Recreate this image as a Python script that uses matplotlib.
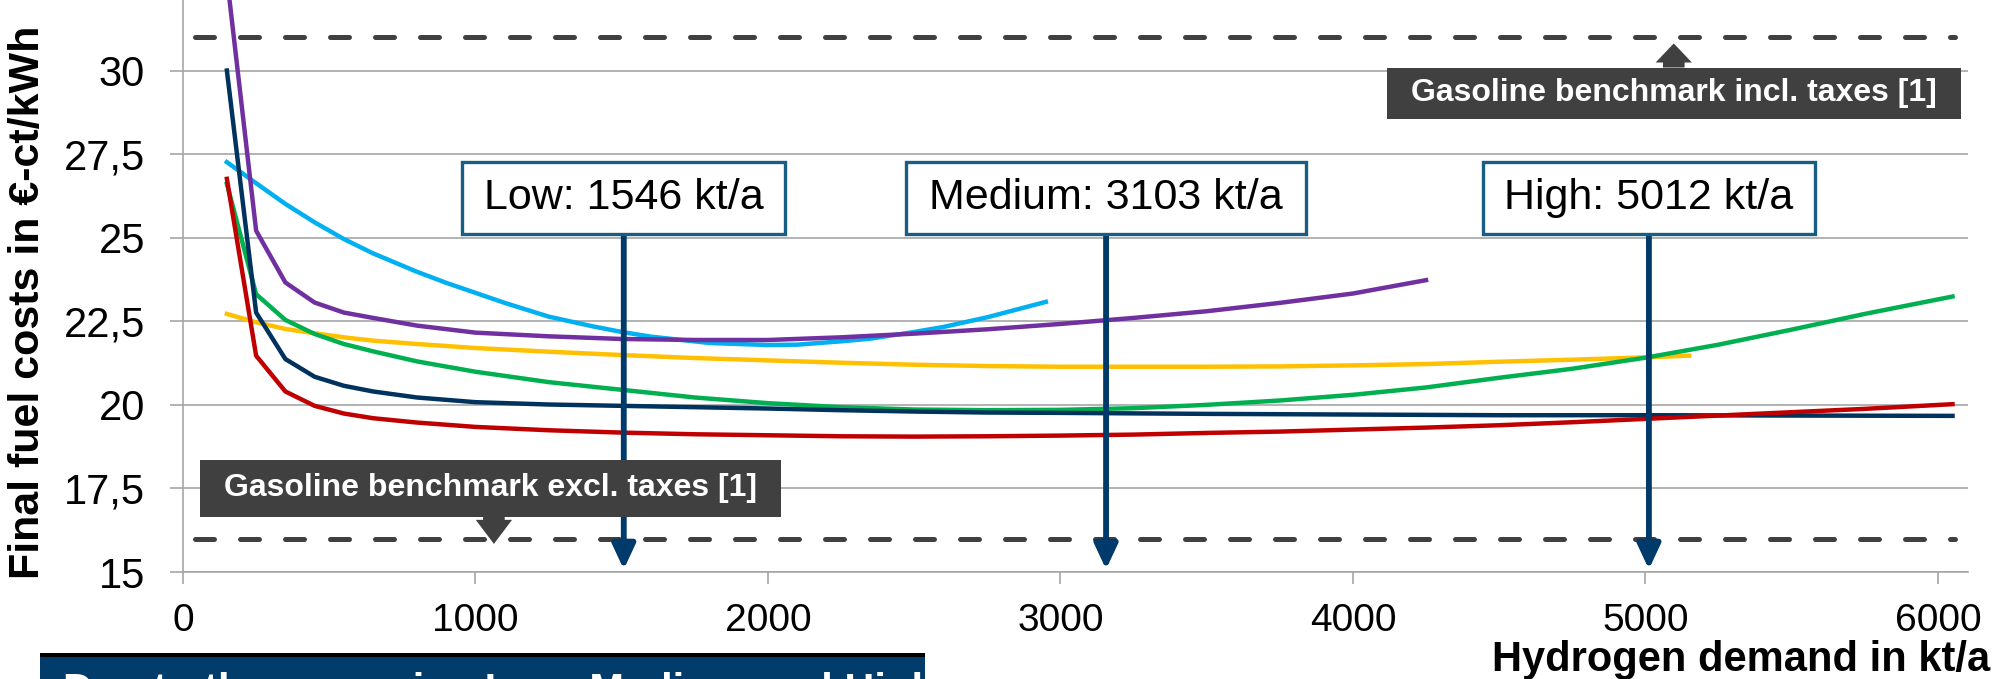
import matplotlib
matplotlib.use('Agg')
import matplotlib.pyplot as plt
from matplotlib.patches import Rectangle, Polygon, FancyArrowPatch

plt.rcParams['font.family'] = ['Liberation Sans', 'DejaVu Sans']

# cost curves (x in kt/a, y in ct/kWh)
x_navy = [150, 250, 350, 450, 550, 650, 800, 1000, 1250, 1500, 1750, 2000, 2250, 2500, 2750, 3000,
          3500, 4000, 4500, 5000, 5500, 6050]
y_navy = [30.0, 22.76, 21.37, 20.84, 20.57, 20.40, 20.22, 20.08, 20.01, 19.97, 19.93, 19.89, 19.84,
          19.80, 19.77, 19.76, 19.73, 19.71, 19.69, 19.69, 19.68, 19.67]

x_red = [150, 250, 350, 450, 550, 650, 800, 1000, 1250, 1500, 1750, 2000, 2250, 2500, 2750, 3000,
         3250, 3500, 3750, 4000, 4250, 4500, 4750, 5000, 5250, 5500, 5750, 6050]
y_red = [26.76, 21.47, 20.40, 19.97, 19.74, 19.60, 19.47, 19.34, 19.24, 19.17, 19.12, 19.09, 19.06,
         19.05, 19.06, 19.08, 19.11, 19.16, 19.20, 19.26, 19.32, 19.39, 19.48, 19.58, 19.68, 19.78,
         19.88, 20.02]

x_green = [150, 250, 350, 450, 550, 650, 800, 1000, 1250, 1500, 1750, 2000, 2250, 2500, 2750, 3000,
           3250, 3500, 3750, 4000, 4250, 4500, 4750, 5000, 5250, 5500, 5750, 6050]
y_green = [26.61, 23.31, 22.54, 22.12, 21.82, 21.60, 21.30, 20.99, 20.68, 20.45, 20.22, 20.05, 19.93,
           19.86, 19.84, 19.85, 19.90, 20.00, 20.13, 20.30, 20.52, 20.81, 21.08, 21.41, 21.80, 22.25,
           22.72, 23.24]

x_yellow = [150, 250, 350, 450, 550, 650, 800, 1000, 1250, 1500, 1750, 2000, 2250, 2500, 2750, 3000,
            3250, 3500, 3750, 4000, 4250, 4500, 4750, 5000, 5150]
y_yellow = [22.72, 22.47, 22.27, 22.14, 22.02, 21.92, 21.82, 21.70, 21.59, 21.49, 21.40, 21.33, 21.26,
            21.20, 21.16, 21.14, 21.14, 21.14, 21.15, 21.18, 21.22, 21.29, 21.35, 21.42, 21.47]

x_purple = [150, 250, 350, 450, 550, 650, 800, 1000, 1250, 1500, 1750, 2000, 2250, 2500, 2750, 3000,
            3250, 3500, 3750, 4000, 4250]
y_purple = [32.8, 25.21, 23.66, 23.06, 22.76, 22.60, 22.37, 22.16, 22.05, 21.97, 21.94, 21.94, 22.02,
            22.13, 22.26, 22.42, 22.60, 22.80, 23.05, 23.33, 23.73]

x_cyan = [150, 250, 350, 450, 550, 650, 800, 900, 1000, 1100, 1250, 1400, 1500, 1600, 1800, 2000,
          2100, 2250, 2350, 2500, 2600, 2750, 2850, 2950]
y_cyan = [27.26, 26.63, 26.01, 25.46, 24.96, 24.53, 23.98, 23.65, 23.35, 23.05, 22.64, 22.35, 22.18,
          22.04, 21.85, 21.79, 21.80, 21.90, 21.98, 22.18, 22.33, 22.62, 22.85, 23.08]

benchmark_incl = 31.0
benchmark_excl = 16.0
benchmark_x = [40, 6060]

scenario_labels = ['Low: 1546 kt/a', 'Medium: 3103 kt/a', 'High: 5012 kt/a']
scenario_x = [1507, 3156, 5012]

y_ticks = [15, 17.5, 20, 22.5, 25, 27.5, 30]
y_tick_labels = ['15', '17,5', '20', '22,5', '25', '27,5', '30']
x_ticks = [0, 1000, 2000, 3000, 4000, 5000, 6000]

gray = '#A6A6A6'
dark = '#404040'
navy = '#003A6A'

fig = plt.figure(figsize=(20.14, 6.79), dpi=100)
ax = fig.add_axes([183 / 2014, 1 - 572 / 679, 1785 / 2014, 572 / 679])
ax.set_xlim(0, 6103)
ax.set_ylim(15, 32.11)

for s in ['top', 'right']:
    ax.spines[s].set_visible(False)
for s in ['left', 'bottom']:
    ax.spines[s].set_color(gray)
    ax.spines[s].set_linewidth(1.2)

ax.set_yticks(y_ticks)
ax.set_yticklabels(y_tick_labels)
ax.set_xticks(x_ticks)
ax.tick_params(axis='y', colors=gray, labelcolor='black', labelsize=30, length=9.4, width=1.2, pad=18)
ax.tick_params(axis='x', colors=gray, labelcolor='black', labelsize=28, length=8.6, width=1.2, pad=14)
ax.grid(axis='y', color=gray, lw=1.2)
ax.set_axisbelow(True)

# benchmark lines
for yb in [benchmark_incl, benchmark_excl]:
    ax.hlines(yb, benchmark_x[0], benchmark_x[1], colors=dark, lw=3.6,
              linestyles=(0, (3.8, 5.2)), capstyle='round', zorder=2)

lw = 3.2
ax.plot(x_cyan, y_cyan, color='#00B0F0', lw=lw, zorder=3, solid_joinstyle='round')
ax.plot(x_purple, y_purple, color='#7030A0', lw=lw, zorder=3, solid_joinstyle='round')
ax.plot(x_yellow, y_yellow, color='#FFC000', lw=lw, zorder=3, solid_joinstyle='round')
ax.plot(x_green, y_green, color='#00B050', lw=lw, zorder=3, solid_joinstyle='round')
ax.plot(x_navy, y_navy, color='#00325E', lw=lw, zorder=3, solid_joinstyle='round')
ax.plot(x_red, y_red, color='#C00000', lw=lw, zorder=3, solid_joinstyle='round')

# scenario boxes with arrows
box_half = [552, 685, 568]
box_y0, box_y1 = 25.12, 27.26
for label, xs, hw in zip(scenario_labels, scenario_x, box_half):
    arr = FancyArrowPatch((xs, box_y0), (xs, 15.08), arrowstyle='-|>,head_length=15,head_width=7',
                          mutation_scale=1, color=navy, lw=4.2, shrinkA=0, shrinkB=0, zorder=4)
    ax.add_patch(arr)
    ax.add_patch(Rectangle((xs - hw, box_y0), 2 * hw, box_y1 - box_y0, facecolor='white',
                           edgecolor='#175E82', lw=2.4, zorder=5))
    ax.text(xs, (box_y0 + box_y1) / 2, label, ha='center', va='center', fontsize=31, zorder=6)


# benchmark callouts
def callout(x0, x1, y0, y1, px, base, tip, text):
    ax.add_patch(Rectangle((x0, y0), x1 - x0, y1 - y0, facecolor=dark, edgecolor='none', zorder=7))
    edge = y1 if tip > y1 else y0
    ax.add_patch(Polygon([(px - 37, edge), (px - 37, base), (px - 62, base), (px, tip),
                          (px + 62, base), (px + 37, base), (px + 37, edge)],
                         closed=True, facecolor=dark, edgecolor='none', zorder=7))
    ax.text((x0 + x1) / 2, (y0 + y1) / 2, text, ha='center', va='center', color='white',
            fontsize=23, fontweight='bold', zorder=8)


callout(4116, 6079, 28.56, 30.09, 5097, 30.24, 30.81, 'Gasoline benchmark incl. taxes [1]')
callout(58, 2045, 16.65, 18.35, 1063, 16.56, 15.84, 'Gasoline benchmark excl. taxes [1]')

fig.text(28 / 2014, 1 - 302 / 679, 'Final fuel costs in €-ct/kWh', rotation=90, ha='center',
         va='center', fontsize=31, fontweight='bold')
fig.text(1990 / 2014, 8 / 679, 'Hydrogen demand in kt/a', ha='right', va='baseline',
         fontsize=30, fontweight='bold')

# bottom banner (cut off by the slide edge)
fig.patches.append(Rectangle((40 / 2014, 0), 885 / 2014, 26.3 / 679, transform=fig.transFigure,
                             facecolor='black', edgecolor='none', zorder=1))
fig.patches.append(Rectangle((40 / 2014, 0), 885 / 2014, 22 / 679, transform=fig.transFigure,
                             facecolor='#023C6B', edgecolor='none', zorder=2))
fig.text(63 / 2014, -24 / 679, 'Due to the scenarios Low, Medium and High', ha='left',
         va='baseline', color='white', fontsize=30, fontweight='bold', zorder=3)

fig.savefig('out.png', dpi=100)
